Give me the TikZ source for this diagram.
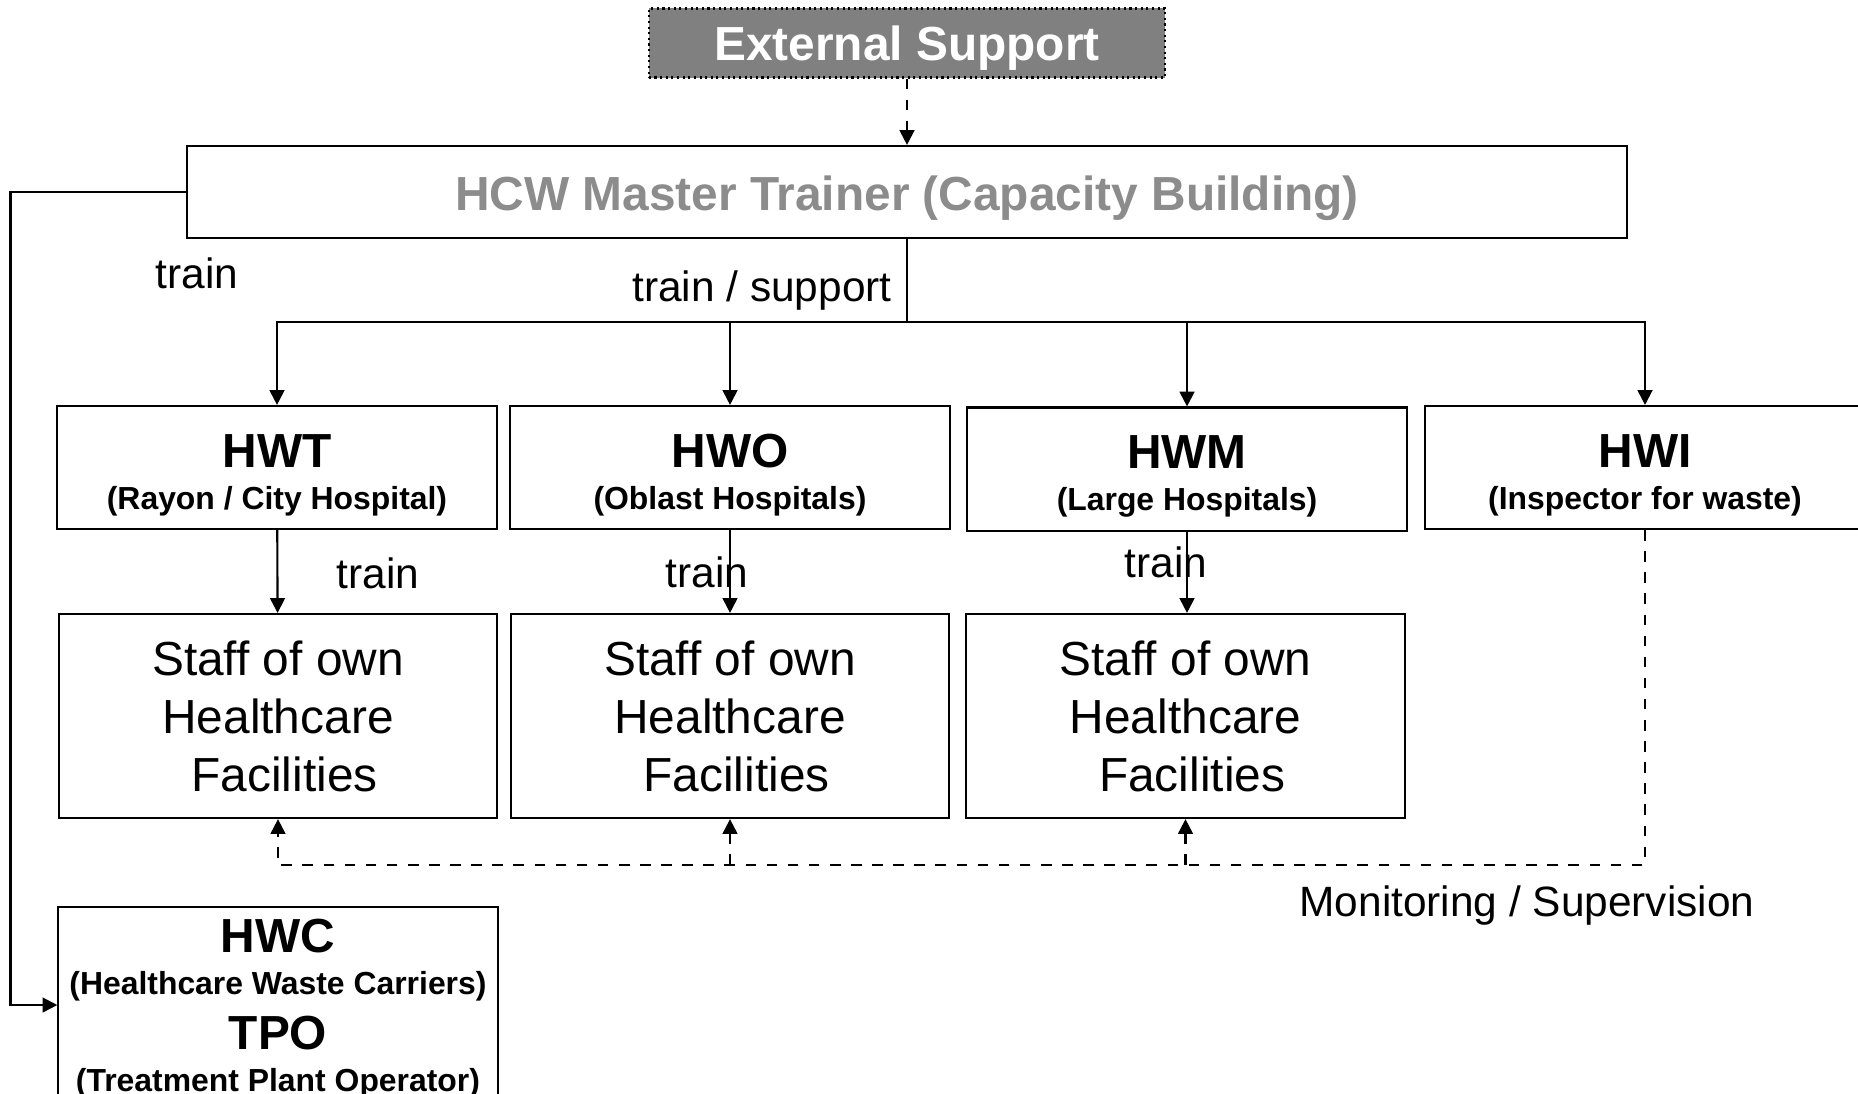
\documentclass[tikz,border=0pt]{standalone}
\usepackage{fontspec}
\setmainfont{Liberation Sans}
\usetikzlibrary{arrows.meta}
\definecolor{extgray}{gray}{0.5}
\definecolor{mastergray}{gray}{0.55}
\newcommand{\subtxt}[1]{{\fontsize{9.07}{12}\selectfont #1}}
\begin{document}
\begin{tikzpicture}[x=0.01cm, y=-0.01cm, line width=0.6pt, >={Triangle[length=4.2pt,width=4.2pt]}]
            \tikzstyle{extbox}=[draw, densely dotted, fill=extgray, text=white, inner sep=0pt, minimum width=5.16cm, minimum height=0.69cm, text height=12.8pt, font=\fontsize{13.6}{16}\selectfont\bfseries]
            \tikzstyle{masterbox}=[draw, text=mastergray, inner sep=0pt, minimum width=14.4cm, minimum height=0.92cm, text height=13.3pt, font=\fontsize{13.6}{16}\selectfont\bfseries]
            \tikzstyle{unitbox}=[draw, align=center, inner sep=0pt, minimum width=4.39cm, minimum height=1.23cm, text height=25.6pt, font=\fontsize{13.6}{12}\selectfont\bfseries]
            \tikzstyle{staffbox}=[draw, align=center, inner sep=0pt, minimum width=4.38cm, minimum height=2.04cm, font=\fontsize{13.6}{16.5}\selectfont]
            \tikzstyle{lbl}=[anchor=base, inner sep=0pt, font=\fontsize{12.06}{14}\selectfont]
            \useasboundingbox (0,0) rectangle (1858,1093);
            \node[extbox] (ext) at (907,43) {External Support};
            \node[masterbox] (master) at (907,192) {HCW Master Trainer (Capacity Building)};
            \node[unitbox] (hwt) at (277,467.5) {HWT\\\subtxt{(Rayon / City Hospital)}};
            \node[unitbox] (hwo) at (730,467.5) {HWO\\\subtxt{(Oblast Hospitals)}};
            \node[unitbox] (hwm) at (1187,469) {HWM\\\subtxt{(Large Hospitals)}};
            \node[unitbox] (hwi) at (1645,467.5) {HWI\\\subtxt{(Inspector for waste)}};
            \node[staffbox] (sthwt) at (278,716) {Staff of own\\Healthcare\\\hspace*{0.278em}Facilities};
            \node[staffbox] (sthwo) at (730,716) {Staff of own\\Healthcare\\\hspace*{0.278em}Facilities};
            \node[staffbox] (sthwm) at (1185.5,716) {Staff of own\\Healthcare\\\hspace*{0.278em}Facilities};
            \node[unitbox, minimum height=1.96cm, text height=51.2pt] (hwc) at (278,1005) {HWC\\\subtxt{(Healthcare Waste Carriers)}\\[3.6pt]TPO\\\subtxt{(Treatment Plant Operator)}};
            \node[lbl] (trainhwc) at (197,288) {train};
            \node[lbl] (trainsup) at (762,301) {train / support};
            \node[lbl] (trainhwt) at (378,588) {train};
            \node[lbl] (trainhwo) at (707,587) {train};
            \node[lbl] (trainhwm) at (1166,577) {train};
            \node[lbl] (monsup) at (1527,916) {Monitoring / Supervision};
            \coordinate (fork) at (907,322);
            \coordinate (mon) at (1645,865);
            \path [->, dashed] (ext) edge[] (master);
            \draw [->] (master.west) -- ++(-175,0) |- (hwc.west);
            \draw (master.south) -- (fork);
            \draw [->] (fork) -| (hwt.north);
            \draw [->] (fork) -| (hwo.north);
            \draw [->] (fork) -| (hwm.north);
            \draw [->] (fork) -| (hwi.north);
            \path [->] (hwt) edge[] (sthwt);
            \path [->] (hwo) edge[] (sthwo);
            \draw [->] (hwm.south) -- (hwm.south |- sthwm.north);
            % monitoring runs back from the inspector
            \draw [->, dashed] (hwi.south) -- (mon) -| (sthwt.south);
            \draw [->, dashed] (sthwo.south |- mon) -- (sthwo.south);
            \draw [->, dashed] (sthwm.south |- mon) -- (sthwm.south);
        \end{tikzpicture}
\end{document}
